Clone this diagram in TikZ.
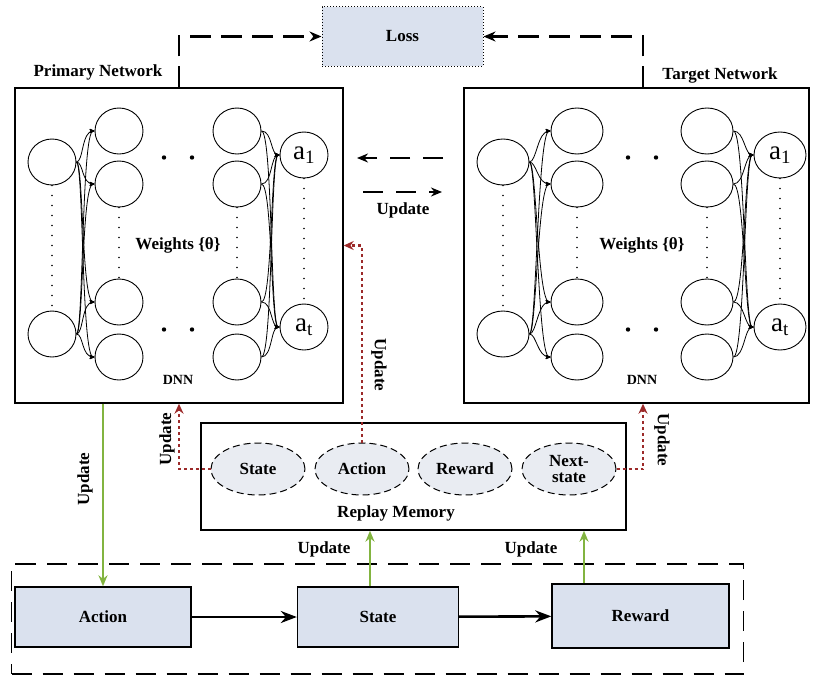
\documentclass[tikz,border=0pt]{standalone}
\usepackage{fontspec}
\setmainfont{Liberation Serif}
\usetikzlibrary{arrows,arrows.meta,shapes.geometric,calc}
\definecolor{boxblue}{HTML}{DAE1EE}
\definecolor{memgray}{HTML}{E9ECF2}
\definecolor{updgreen}{HTML}{82B440}
\definecolor{updred}{HTML}{9C2A2A}

\begin{document}
\begin{tikzpicture}[x=1pt,y=-1pt,>=stealth',
  font=\fontsize{17}{19}\selectfont\bfseries,
  neuron/.style={ellipse,draw,line width=0.9pt,minimum height=46pt,inner sep=0pt,
    font=\fontsize{27}{28}\selectfont\mdseries},
  link/.style={->,line width=0.8pt},
  dot col/.style={line width=1.8pt,line cap=round,dash pattern=on 0pt off 10pt},
  net box/.style={draw,line width=1.4pt,minimum width=#1,minimum height=315pt},
  loss box/.style={draw,dotted,line width=1pt,fill=boxblue,minimum width=161pt,minimum height=59pt},
  loss line/.style={-{Stealth[length=12pt,width=10pt]},line width=2.4pt,dash pattern=on 21pt off 10pt},
  mid line/.style={-{Stealth[length=11pt,width=9pt]},line width=2.4pt,dash pattern=on 20pt off 13pt},
  mem item/.style={ellipse,draw,line width=1pt,dash pattern=on 7pt off 4pt,fill=memgray,
    minimum width=94pt,minimum height=52pt,inner sep=0pt,align=center,font=\fontsize{17}{16}\selectfont\bfseries},
  red line/.style={-{Stealth[length=10pt,width=9pt]},updred,line width=2.4pt,dash pattern=on 3pt off 3pt},
  green line/.style={-{Stealth[length=11pt,width=9pt]},updgreen,line width=2.6pt},
  step box/.style={draw,line width=1.4pt,fill=boxblue},
  flow/.style={-{Stealth[length=16pt,width=12pt]},line width=2.6pt}]

  \useasboundingbox (0,0) rectangle (813,677);

  % the two networks
  \node[net box=328pt] (pbox) at (179,245.5) {};
  \node[net box=345pt] (tbox) at (636.5,245.5) {};
  \node (ptitle) at (98,72) {Primary Network};
  \node (ttitle) at (720,75) {Target Network};

  \foreach \net/\xa/\xb/\xc/\xd/\nw in {p/52/119/237/304/48, t/503/577/707/780/52} {
    \node[neuron,minimum width=\nw] (\net-i1) at (\xa,162) {};
    \node[neuron,minimum width=\nw] (\net-i2) at (\xa,334) {};
    \foreach \y [count=\k] in {131,184,302,357} {
      \node[neuron,minimum width=\nw] (\net-h\k) at (\xb,\y) {};
      \node[neuron,minimum width=\nw] (\net-g\k) at (\xc,\y) {};
    }
    \node[neuron,minimum width=\nw] (\net-o1) at (\xd,155) {a\textsubscript{1}};
    \node[neuron,minimum width=\nw] (\net-o2) at (\xd,327) {a\textsubscript{t}};

    \foreach \k in {1,...,4} {
      \draw[link] (\net-i1.east) .. controls +(7,0) and +(-13,0) .. (\net-h\k.west);
      \draw[link] (\net-i2.east) .. controls +(7,0) and +(-13,0) .. (\net-h\k.west);
      \draw[link] (\net-g\k.east) .. controls +(11,0) and +(-9,0) .. (\net-o1.west);
      \draw[link] (\net-g\k.east) .. controls +(11,0) and +(-9,0) .. (\net-o2.west);
    }

    \draw[dot col] (\net-i1.south) -- (\net-i2.north);
    \draw[dot col] (\net-h2.south) -- (\net-h3.north);
    \draw[dot col] (\net-g2.south) -- (\net-g3.north);
    \draw[dot col] (\net-o1.south) -- (\net-o2.north);
    \fill ($(\net-h1)!.5!(\net-g2)+(-14,0)$) circle (2.2);
    \fill ($(\net-h1)!.5!(\net-g2)+(14,0)$) circle (2.2);
    \fill ($(\net-h3)!.5!(\net-g4)+(-14,0)$) circle (2.2);
    \fill ($(\net-h3)!.5!(\net-g4)+(14,0)$) circle (2.2);

    \node (\net-w) at ($(\net-h2)!.5!(\net-g3)+(0,2)$) {Weights \{θ\}};
    \node[font=\fontsize{14}{15}\selectfont\bfseries] (\net-dnn) at ($(\net-h4)!.5!(\net-g4)+(0,23)$) {DNN};
  }

  % loss
  \node[loss box] (loss) at (402.5,36.5) {Loss};
  \draw[loss line] (pbox.north) |- (loss.west);
  \draw[loss line] ([xshift=6.5pt]tbox.north) |- (loss.east);

  \coordinate (ua) at (443,158);
  \coordinate (ub) at (357,158);
  \coordinate (uc) at (363,192);
  \coordinate (ud) at (442,192);
  \draw[mid line] (ua) -- (ub);
  \draw[mid line] (uc) -- (ud);
  \node (upd) at (403,210) {Update};

  % replay memory
  \node[draw,line width=1.4pt,minimum width=425pt,minimum height=107pt] (memory) at (413.5,476.5) {};
  \node[mem item] (m-state) at (258,469) {State};
  \node[mem item] (m-action) at (362,469) {Action};
  \node[mem item] (m-reward) at (465,469) {Reward};
  \node[mem item] (m-next) at (569,469) {Next-\\state};
  \node (memlbl) at (396,513) {Replay Memory};

  \draw[red line] (m-state.west) -| (pbox.south);
  \draw[red line] (m-next.east) -| ([xshift=6.5pt]tbox.south);
  \draw[red line] (m-action.north) |- (pbox.east);
  \node[rotate=90] (rl) at (167,439) {Update};
  \node[rotate=-90] (rr) at (662,440) {Update};
  \node[rotate=-90] (rm) at (379,365) {Update};

  % environment
  \node[draw,line width=1.8pt,dash pattern=on 20pt off 11pt,minimum width=732pt,minimum height=110pt] (env) at (377.5,619) {};
  \node[step box,minimum width=176pt,minimum height=60pt] (b-action) at (103,617) {Action};
  \node[step box,minimum width=161pt,minimum height=60pt] (b-state) at (378,617) {State};
  \node[step box,minimum width=177pt,minimum height=64pt] (b-reward) at (640.5,616) {Reward};
  \draw[flow] (b-action) -- (b-state);
  \draw[flow] (b-state) -- (b-reward);

  \coordinate (gs) at ([xshift=-8pt]b-state.north);
  \coordinate (gr) at ([xshift=-56.5pt]b-reward.north);
  \draw[green line] (pbox.south -| b-action.north) -- (b-action.north);
  \draw[green line] (gs) -- (gs |- memory.south);
  \draw[green line] (gr) -- (gr |- memory.south);
  \node[rotate=90] (gl) at (85,479) {Update};
  \node (gl2) at (324,549) {Update};
  \node (gl3) at (531,549) {Update};
\end{tikzpicture}
\end{document}
